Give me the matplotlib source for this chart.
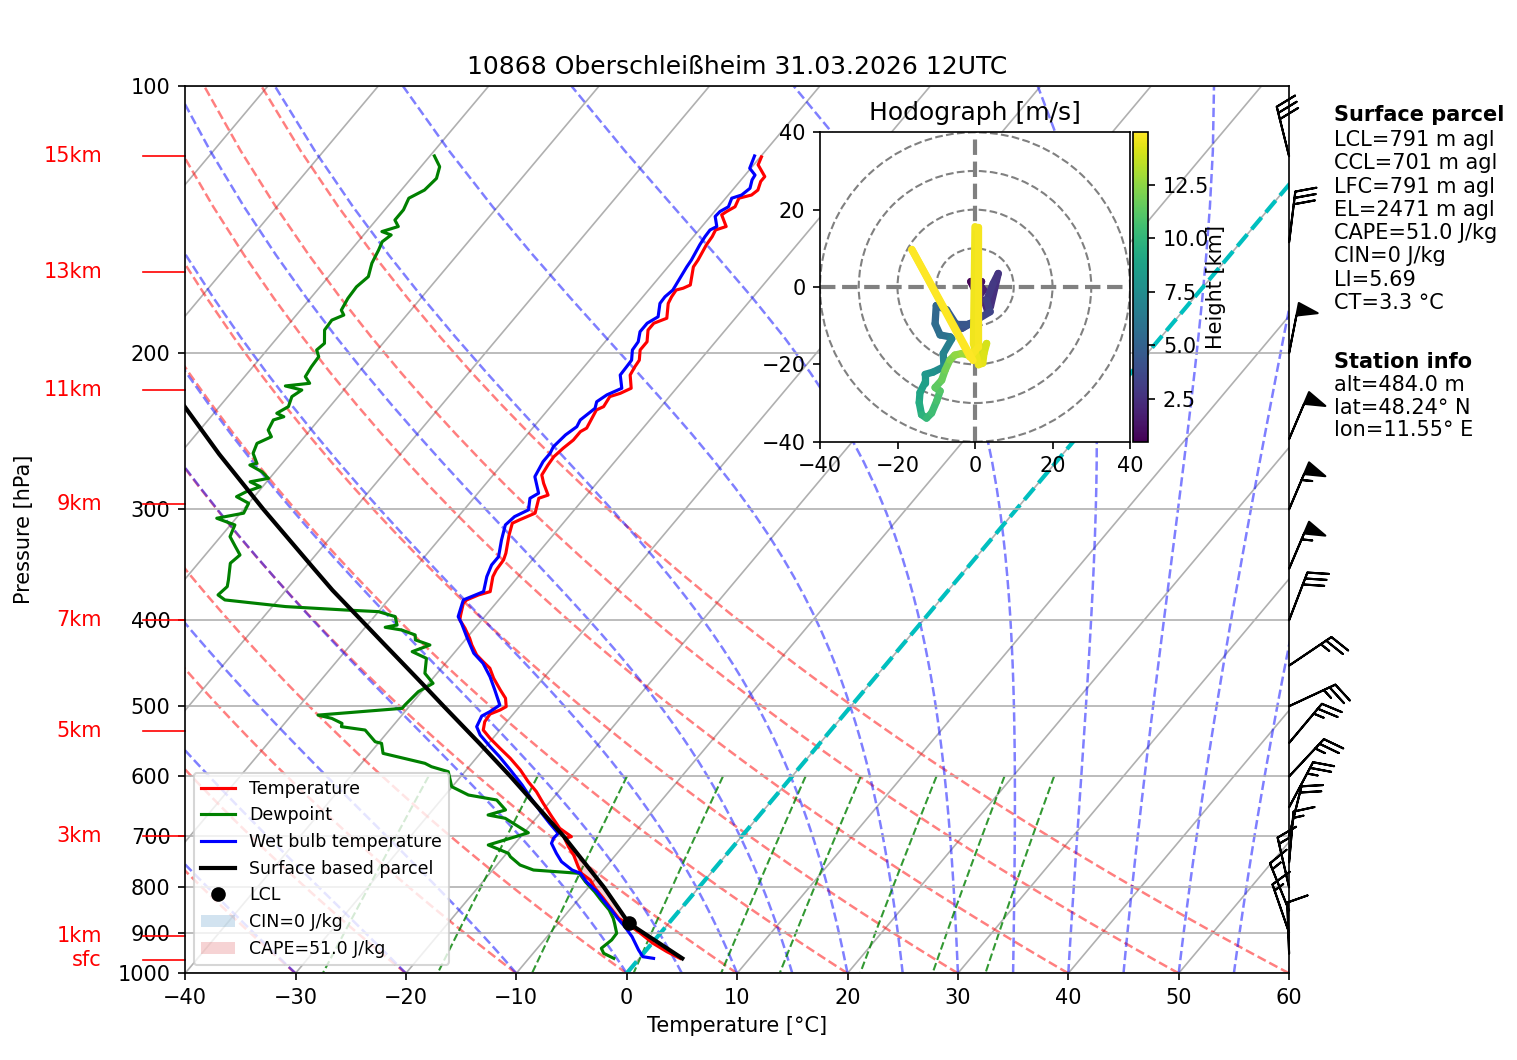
import numpy as np
import matplotlib
matplotlib.use("Agg")
import matplotlib.pyplot as plt
from matplotlib.transforms import Affine2D
from matplotlib.ticker import FixedLocator, ScalarFormatter, NullLocator, MultipleLocator
from matplotlib.collections import LineCollection
from matplotlib.colors import Normalize
from matplotlib.patches import Circle, Patch
from matplotlib.lines import Line2D

# ---------------------------------------------------------------- data
TITLE = "10868 Oberschleißheim 31.03.2026 12UTC"

temp_p = [120.2, 122.7, 126.5, 128.1, 131.0, 132.7, 133.8, 136.8, 138.5, 139.7,
          144.0, 145.3, 147.8, 151.0, 157.1, 159.9, 167.6, 169.0, 169.8, 172.8,
          175.8, 182.7, 185.1, 188.4, 194.2, 198.4, 203.7, 207.3, 211.7, 219.1,
          222.0, 223.9, 229.8, 231.8, 243.0, 245.2, 250.6, 256.0, 261.7, 267.4,
          274.4, 280.4, 289.1, 291.5, 303.0, 308.3, 311.0, 320.6, 336.2, 342.1,
          351.1, 357.2, 371.4, 374.6, 379.5, 382.8, 394.6, 399.7, 408.4, 419.3,
          426.6, 437.8, 445.5, 453.1, 465.0, 479.4, 489.8, 500.6, 505.0, 510.3,
          520.5, 531.9, 543.5, 557.7, 572.4, 590.0, 608.2, 624.1, 643.2, 666.0,
          686.4, 701.5, 704.5, 720.0, 735.8, 758.4, 771.5, 785.0, 802.3, 823.4,
          841.5, 867.1, 878.4, 901.4, 925.1, 945.5, 962.0]
temp_c = [-49.9, -49.6, -48.1, -48.1, -47.7, -47.9, -48.8, -48.5, -48.9, -49.1,
          -47.8, -48.5, -48.3, -48.2, -47.8, -47.7, -46.6, -47.0, -47.5, -47.4,
          -47.2, -46.2, -47.0, -47.0, -46.2, -46.2, -45.5, -45.4, -45.2, -44.1,
          -44.7, -45.4, -45.2, -45.6, -45.1, -45.4, -45.4, -45.7, -45.9, -45.8,
          -45.6, -44.8, -43.5, -44.1, -43.3, -44.2, -44.6, -44.0, -42.9, -42.6,
          -42.5, -42.3, -41.4, -42.2, -42.9, -42.95, -42.3, -42.0, -40.9, -39.7,
          -39.0, -37.8, -36.7, -35.6, -34.5, -33.0, -31.9, -31.2, -31.5, -32.1,
          -32.0, -31.5, -30.25, -28.6, -26.9, -25.1, -23.5, -22.0, -20.5, -18.7,
          -17.1, -15.4, -15.9, -14.9, -13.8, -12.5, -11.7, -10.4, -9.3, -7.8,
          -6.6, -4.9, -3.8, -1.8, 0.1, 2.0, 3.7]

wetb_p = [119.9, 123.8, 126.0, 127.6, 130.4, 132.7, 133.8, 136.8, 138.5, 140.3,
          144.0, 145.3, 147.8, 151.0, 157.1, 159.9, 169.8, 172.8, 175.8, 182.0,
          185.1, 189.2, 194.2, 198.4, 203.7, 207.3, 211.7, 219.1, 222.9, 226.9,
          230.8, 237.9, 242.1, 247.3, 255.0, 259.4, 265.1, 275.6, 287.7, 291.5,
          300.4, 305.7, 312.4, 324.9, 339.2, 346.6, 357.2, 371.4,
          379.5, 396.3, 403.1, 417.5, 435.8, 447.3, 463.1, 479.4, 498.5, 507.2,
          512.9, 527.3, 538.8, 555.4, 570.0, 590.0, 613.4, 632.4, 657.4, 677.5,
          695.5, 704.5, 713.7, 732.4, 748.5, 764.9, 771.5, 788.6, 809.4, 826.9,
          848.5, 867.1, 886.3, 909.4, 941.3, 957.8, 962.0]
wetb_c = [-50.6, -50.1, -49.1, -49.0, -48.55, -48.8, -49.45, -49.1, -49.5, -49.56,
          -48.65, -49.0, -48.95, -48.8, -48.4, -48.3, -47.8, -48.0, -47.95, -47.1,
          -47.6, -47.6, -47.0, -46.9, -46.2, -46.15, -46.1, -44.95, -45.8, -46.2,
          -45.85, -46.3, -46.1, -46.5, -46.7, -46.5, -46.5, -46.1, -44.5, -44.9,
          -44.15, -44.9, -45.1, -44.3, -43.3, -43.3, -42.85, -42.0,
          -43.2, -42.4, -41.6, -40.1, -38.2, -36.6, -34.95, -33.5, -31.9, -32.3,
          -32.7, -32.35, -31.4, -29.6, -28.0, -26.0, -23.8, -22.2, -20.1, -18.4,
          -16.85, -16.9, -16.7, -15.5, -14.4, -12.8, -11.8, -10.6, -8.9, -7.7,
          -6.2, -5.0, -3.7, -2.3, -0.7, 0.2, 1.3]

dewp_p = [119.9, 123.3, 127.1, 131.0, 133.8, 137.9, 141.6, 144.0, 145.9, 147.2,
          149.8, 153.0, 158.4, 164.0, 168.4, 173.5, 178.9, 181.2, 183.6, 188.4,
          195.0, 198.4, 201.9, 207.3, 212.6, 216.3, 217.8, 220.1, 223.9, 229.8,
          233.8, 235.9, 237.9, 244.2, 248.5, 252.8, 259.4, 266.2, 267.4, 272.1,
          276.8, 279.3, 282.9, 286.6, 290.3, 295.3, 303.0, 307.0, 312.4, 322.0,
          330.5, 337.7, 345.0, 360.3, 366.6, 374.6, 379.5, 386.1, 389.5, 391.2,
          396.3, 405.0, 407.4, 410.3, 415.6, 421.0, 426.6, 434.0, 441.6, 459.1,
          471.2, 481.5, 498.5, 502.8, 511.7, 516.1, 522.8, 527.3, 531.9, 548.3,
          550.6, 565.1, 579.9, 585.0, 592.6, 616.1, 629.6, 637.8, 654.5, 663.1,
          668.8, 694.4, 716.8, 732.4, 739.0, 755.0, 764.9,
          771.5, 788.6, 809.4, 826.9, 848.5, 867.1, 878.4, 901.4, 917.1, 937.2,
          949.5, 962.0]
dewp_c = [-79.6, -78.3, -77.7, -77.9, -78.7, -78.3, -78.3, -77.5, -78.6, -77.5,
          -77.8, -77.5, -77.1, -76.4, -76.7, -76.6, -76.3, -75.7, -76.4, -76.3,
          -75.3, -75.5, -74.8, -74.7, -74.5, -73.6, -75.6, -73.8, -74.2, -73.75,
          -74.3, -73.4, -74.1, -73.8, -73.0, -73.8, -73.4, -72.3, -72.8, -71.2,
          -70.1, -71.5, -70.2, -71.1, -71.6, -70.0, -69.7, -71.75, -69.6, -69.15,
          -67.9, -66.85, -67.1, -66.0, -65.6, -65.8, -64.8, -58.8, -53.2, -50.0,
          -48.1, -47.3, -48.2, -46.5, -44.9, -44.5, -42.8, -43.9, -42.1, -41.1,
          -39.6, -40.3, -40.5, -40.5, -47.6, -46.1, -44.8, -44.6, -42.2, -40.4,
          -39.7, -38.8, -34.25, -33.4, -31.5, -30.05, -27.9, -24.96, -23.4, -24.6,
          -22.8, -19.6, -22.3, -19.85, -19.4, -17.9, -16.3,
          -11.9, -10.7, -9.1, -7.9, -6.4, -5.4, -4.9, -3.95, -3.9, -4.2,
          -3.6, -2.3]

parcel_p = [962.0, 878.4, 800.0, 700.0, 600.0, 550.0, 500.0, 475.0, 450.0, 425.0,
            400.0, 370.0, 350.0, 300.0, 260.0, 230.0, 200.0]
parcel_c = [3.9, -3.6, -8.6, -16.2, -25.5, -30.9, -36.9, -40.1, -43.5, -47.1,
            -50.9, -55.8, -59.1, -68.2, -76.4, -83.1, -90.5]

lcl_p = [878.4]
lcl_c = [-3.6]

# heights (MSL) marked on the left
km_labels = ["15km", "13km", "11km", "9km", "7km", "5km", "3km", "1km", "sfc"]
km_pres = [120.0, 162.2, 220.3, 296.1, 399.7, 533.3, 700.0, 907.6, 966.0]

# wind barbs (knots)
barb_p = [950, 900, 850, 800, 750, 700, 650, 600, 550, 500, 450, 400, 350, 300,
          250, 200, 150, 120]
barb_dir = [358, 341, 338, 347, 5, 14, 28, 43, 40, 65, 56, 21, 23, 23, 23, 11, 7, 346]
barb_kt = [10, 15, 15, 15, 15, 20, 25, 25, 25, 25, 25, 30, 55, 55, 50, 50, 30, 30]

# hodograph (m/s) coloured by height (km)
hodo_h = [0.48, 0.6, 0.8, 1.0, 1.2, 1.4, 1.6, 1.8, 2.0, 2.2,
          2.4, 2.6, 2.8, 3.0, 3.3, 3.6, 3.9, 4.2, 4.5, 4.8,
          5.1, 5.4, 5.7, 6.0, 6.4, 6.8, 7.2, 7.6, 8.0, 8.4,
          8.8, 9.2, 9.6, 10.0, 10.3, 10.6, 10.9, 11.2, 11.5, 11.8,
          12.1, 12.4, 12.7, 13.0, 13.3, 13.6, 13.9, 14.1, 14.3, 14.5,
          14.6, 14.7, 14.75, 14.8, 14.85, 14.9, 14.95]
hodo_u = [0.0, -1.1, 0.4, 1.7, -0.4, 1.3, 2.2, 0.9, 2.6, 3.2,
          4.0, 6.0, 4.7, 3.0, 3.9, 0.4, -3.4, -1.5, -5.0, -7.3,
          -10.0, -10.3, -9.0, -6.4, -6.0, -8.2, -8.0, -10.8, -12.9, -12.9,
          -14.2, -14.4, -13.8, -12.5, -11.2, -9.9, -9.0, -10.3, -8.6, -7.7,
          -6.5, -5.2, -3.4, -1.7, 0.0, 1.3, 3.0, 2.3, 2.0, 0.9,
          -0.4, 0.0, 0.9, 0.9, -1.3, -16.3, -0.5]
hodo_v = [-0.8, 1.4, 1.8, 1.4, 0.1, 0.5, -0.8, -2.5, -4.2, -6.0,
          -5.0, 3.5, 0.9, -3.4, -6.4, -8.5, -10.7, -9.5, -9.5, -5.9,
          -4.8, -9.5, -12.4, -12.9, -13.4, -17.2, -20.6, -22.0, -22.6, -24.7,
          -27.3, -29.9, -33.0, -33.9, -32.6, -29.5, -26.9, -26.0, -24.1, -21.5,
          -18.9, -17.6, -17.2, -17.6, -17.2, -17.2, -14.6, -17.2, -19.7, -20.1,
          -14.6, 15.6, 15.6, -15.5, -18.1, 9.7, -19.0]

parcel_title = "Surface parcel"
parcel_info = ["LCL=791 m agl", "CCL=701 m agl", "LFC=791 m agl", "EL=2471 m agl",
               "CAPE=51.0 J/kg", "CIN=0 J/kg", "LI=5.69", "CT=3.3 °C"]
station_title = "Station info"
station_info = ["alt=484.0 m", "lat=48.24° N", "lon=11.55° E"]

legend_labels = ["Temperature", "Dewpoint", "Wet bulb temperature",
                 "Surface based parcel", "LCL", "CIN=0 J/kg", "CAPE=51.0 J/kg"]

# ------------------------------------------------ reference-line physics
RD, CP, LV, EPS = 287.04749, 1004.6662, 2.50084e6, 0.62196
KAPPA = RD / CP


def sat_vp(tc):
    return 6.112 * np.exp(17.67 * tc / (tc + 243.5))


def moist_rate(tk, p):
    es = sat_vp(tk - 273.15)
    rs = EPS * es / (p - es)
    return (RD * tk + LV * rs) / (CP + LV * LV * rs * EPS / (RD * tk * tk))


def moist_adiabats(t0c, pres):
    tk = np.asarray(t0c, float) + 273.15
    out = [tk.copy()]
    for i in range(1, len(pres)):
        lp0, lp1 = np.log(pres[i - 1]), np.log(pres[i])
        n = 4
        h = (lp1 - lp0) / n
        lp = lp0
        for _ in range(n):
            k1 = moist_rate(tk, np.exp(lp))
            k2 = moist_rate(tk + 0.5 * h * k1, np.exp(lp + 0.5 * h))
            k3 = moist_rate(tk + 0.5 * h * k2, np.exp(lp + 0.5 * h))
            k4 = moist_rate(tk + h * k3, np.exp(lp + h))
            tk = tk + h * (k1 + 2 * k2 + 2 * k3 + k4) / 6
            lp += h
        out.append(tk.copy())
    return np.array(out).T - 273.15


# ---------------------------------------------------------------- figure
W, H, DPI = 1517, 1060, 150
fig = plt.figure(figsize=(W / DPI, H / DPI), dpi=DPI)

L0, R0, T0, B0 = 185.1, 1289.1, 86.0, 973.3
ax = fig.add_axes([L0 / W, 1 - B0 / H, (R0 - L0) / W, (B0 - T0) / H])
ax.set_yscale("log")
ax.set_ylim(1000, 100)
ax.set_xlim(-40, 60)
ax.set_autoscale_on(False)
ax.yaxis.set_major_locator(FixedLocator([1000, 900, 800, 700, 600, 500, 400, 300, 200, 100]))
ax.yaxis.set_major_formatter(ScalarFormatter())
ax.yaxis.set_minor_locator(NullLocator())
ax.xaxis.set_major_locator(MultipleLocator(10))
ax.yaxis.grid(True, color="#b0b0b0", lw=0.8)

SKEW_TAN = 0.675
skew = ax.transScale + ax.transLimits + Affine2D().skew(np.arctan(SKEW_TAN), 0) + ax.transAxes

# isotherms
for t in np.arange(-110, 61, 10):
    ax.plot([t, t], [1000, 100], color="#b0b0b0", lw=0.8, transform=skew, zorder=1)

# dry adiabats
p_ref = np.linspace(1000, 100, 50)
segs = []
for t0 in np.arange(-40, 61, 10):
    tt = (t0 + 273.15) * (p_ref / 1000.0) ** KAPPA - 273.15
    segs.append(np.column_stack([tt, p_ref]))
ax.add_collection(LineCollection(segs, colors="r", linestyles="dashed", alpha=0.5,
                                 linewidths=1.2, transform=skew, zorder=1), autolim=False)

# moist adiabats
t0m = np.concatenate((np.arange(-40, 0, 10), np.arange(0, 61, 5)))
mt = moist_adiabats(t0m, p_ref)
segs = [np.column_stack([row, p_ref]) for row in mt]
ax.add_collection(LineCollection(segs, colors="b", linestyles="dashed", alpha=0.5,
                                 linewidths=1.2, transform=skew, zorder=1), autolim=False)

# mixing ratio lines
p_mix = np.linspace(600, 1000, 50)
segs = []
for w in [0.0004, 0.001, 0.002, 0.004, 0.007, 0.01, 0.016, 0.024, 0.032]:
    e = p_mix * w / (EPS + w)
    a = np.log(e / 6.112)
    td = 243.5 * a / (17.67 - a)
    segs.append(np.column_stack([td, p_mix]))
ax.add_collection(LineCollection(segs, colors="g", linestyles="dashed", alpha=0.8,
                                 linewidths=1.0, transform=skew, zorder=1), autolim=False)

# 0 degC isotherm
ax.plot([0, 0], [1000, 100], color="c", ls="--", lw=2, transform=skew, zorder=1.5)

# CAPE shading
tp = np.array(temp_p)
tt = np.array(temp_c)
sel = (tp >= 695) & (tp <= 878.4)
pp = np.array(parcel_p)[::-1]
pc = np.array(parcel_c)[::-1]
parc_i = np.interp(np.log(tp[sel]), np.log(pp), pc)
ax.fill_betweenx(tp[sel], tt[sel], parc_i, where=parc_i >= tt[sel], interpolate=True,
                 facecolor="tab:red", alpha=0.2, transform=skew, zorder=1.6)

# profiles
ax.plot(temp_c, temp_p, color="r", lw=1.5, transform=skew, zorder=2)
ax.plot(dewp_c, dewp_p, color="g", lw=1.5, transform=skew, zorder=2)
ax.plot(wetb_c, wetb_p, color="b", lw=1.5, transform=skew, zorder=2)
ax.plot(parcel_c, parcel_p, color="k", lw=2, transform=skew, zorder=2.1)
ax.plot(lcl_c, lcl_p, "ko", ms=6, transform=skew, zorder=2.2)

# wind barbs
bd = np.deg2rad(barb_dir)
bs = np.array(barb_kt, float)
bu = -bs * np.sin(bd)
bv = -bs * np.cos(bd)
ax.barbs(np.ones(len(barb_p)), barb_p, bu, bv, transform=ax.get_yaxis_transform(),
         clip_on=False, length=7, zorder=3)

# height labels
for lab, p in zip(km_labels, km_pres):
    ax.text(-0.0753, p, lab, transform=ax.get_yaxis_transform(), ha="right",
            va="center", color="red", fontsize=10)
    ax.plot([-0.0379, 0], [p, p], transform=ax.get_yaxis_transform(), color="red",
            lw=0.8, clip_on=False)

ax.set_title(TITLE)
ax.set_xlabel("Temperature [°C]")
ax.set_ylabel("Pressure [hPa]")
ax.yaxis.set_label_coords(-0.1369, 0.5)

handles = [Line2D([], [], color="r", lw=1.5), Line2D([], [], color="g", lw=1.5),
           Line2D([], [], color="b", lw=1.5), Line2D([], [], color="k", lw=2),
           Line2D([], [], color="k", marker="o", ls="none", ms=6),
           Patch(facecolor="tab:blue", alpha=0.2), Patch(facecolor="tab:red", alpha=0.2)]
ax.legend(handles, legend_labels, loc="lower left", fontsize="small")

# info text
x_txt = 1334 / W
fig.text(x_txt, 1 - 115 / H, parcel_title, fontweight="bold", va="center", fontsize=10)
for i, s in enumerate(parcel_info):
    fig.text(x_txt, 1 - (140 + 23.3 * i) / H, s, va="center", fontsize=10)
fig.text(x_txt, 1 - 361.7 / H, station_title, fontweight="bold", va="center", fontsize=10)
for i, s in enumerate(station_info):
    fig.text(x_txt, 1 - (385 + 22.7 * i) / H, s, va="center", fontsize=10)

# ---------------------------------------------------------------- hodograph
HL, HR, HT, HB = 820.0, 1130.0, 132.3, 441.7
axh = fig.add_axes([HL / W, 1 - HB / H, (HR - HL) / W, (HB - HT) / H])
axh.set_xlim(-40, 40)
axh.set_ylim(-40, 40)
axh.set_xticks([-40, -20, 0, 20, 40])
axh.set_yticks([-40, -20, 0, 20, 40])
for r in [10, 20, 30, 40]:
    axh.add_patch(Circle((0, 0), r, fill=False, edgecolor="grey", ls="--", lw=1))
axh.axhline(0, color="grey", ls="--", lw=2)
axh.axvline(0, color="grey", ls="--", lw=2)
pts = np.column_stack([hodo_u, hodo_v])
hsegs = np.stack([pts[:-1], pts[1:]], axis=1)
hh = np.array(hodo_h)
lc = LineCollection(hsegs, cmap="viridis", norm=Normalize(hh.min(), hh.max()), linewidths=3.5,
                    capstyle="round")
lc.set_array(0.5 * (hh[:-1] + hh[1:]))
axh.add_collection(lc)
axh.set_title("Hodograph [m/s]")

cax = fig.add_axes([1133.3 / W, 1 - HB / H, 15 / W, (HB - HT) / H])
cb = fig.colorbar(lc, cax=cax)
cb.set_ticks([2.5, 5.0, 7.5, 10.0, 12.5])
cb.set_label("Height [km]", labelpad=-1.5)

fig.savefig("out.png", dpi=DPI)
